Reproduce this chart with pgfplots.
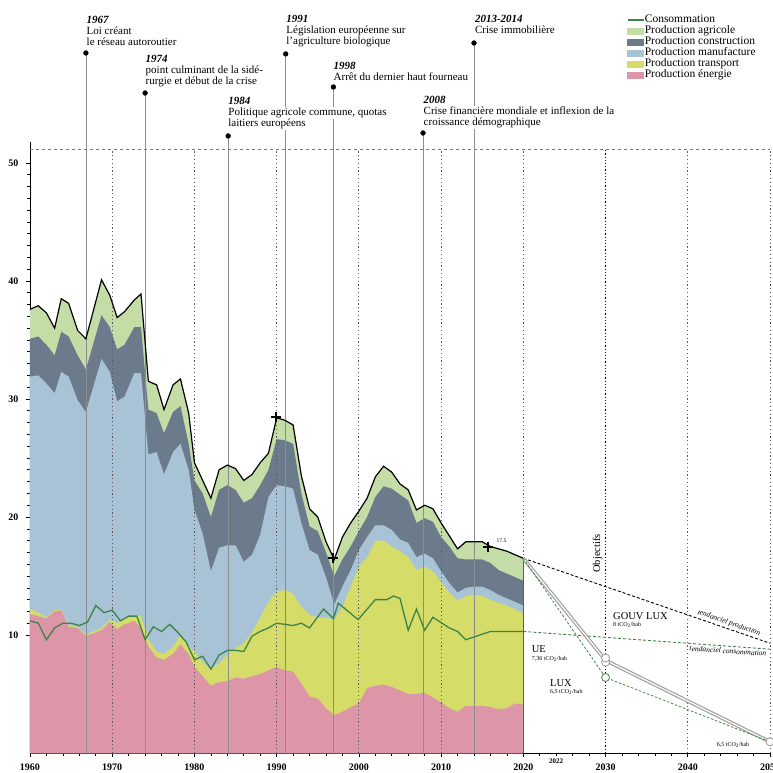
\documentclass[border=0pt]{standalone}
\usepackage{fontspec}
\setmainfont{Liberation Serif}
\usepackage{pgfplots}
\pgfplotsset{compat=1.18}
\usepackage{pgfplotstable}

\definecolor{cEn}{RGB}{221,150,168}
\definecolor{cTr}{RGB}{213,220,104}
\definecolor{cMa}{RGB}{168,194,214}
\definecolor{cCo}{RGB}{108,123,140}
\definecolor{cAg}{RGB}{196,221,167}
\definecolor{cCons}{RGB}{60,132,72}
\definecolor{cRed}{RGB}{210,40,70}
\definecolor{cEv}{RGB}{140,140,145}
\definecolor{cDec}{RGB}{95,85,95}

% cumulative boundaries: e = energie, t = +transport, m = +manufacture, c = +construction, a = total
\pgfplotstableread{
x e t m c a
1960 11.8 12.2 31.9 35.1 37.6
1961 11.6 11.9 32.0 35.3 37.9
1962 11.4 11.5 31.3 34.6 37.3
1963 12.0 12.1 30.5 33.7 36.0
1963.8 12.1 12.2 32.3 35.7 38.5
1964.7 10.7 10.8 31.9 35.3 38.1
1965.8 10.6 10.7 29.9 33.7 35.8
1966.8 9.9 10.0 28.9 32.5 35.1
1968.7 10.4 10.6 33.4 37.1 40.1
1969.7 11.1 11.3 32.3 36.1 38.8
1970.6 10.5 11.0 29.8 34.2 36.9
1971.5 10.9 11.4 30.2 34.6 37.4
1972.7 11.2 11.7 32.2 36.1 38.4
1973.5 10.6 11.6 32.2 36.1 38.9
1974.4 9.0 9.6 25.3 29.1 31.5
1975.4 8.1 8.6 25.5 28.8 31.2
1976.3 7.9 8.4 23.6 27.1 29.1
1977.4 8.4 9.0 25.5 28.9 31.2
1978.3 9.2 10.0 26.2 29.4 31.7
1979.3 8.4 9.1 24.0 26.2 28.8
1980 7.3 8.6 20.6 23.1 24.6
1981 6.5 7.7 18.6 22.0 23.1
1982 5.7 7.1 15.4 20.0 21.6
1983 6.0 7.6 17.4 22.3 24.0
1984 6.1 8.3 17.6 22.7 24.4
1985 6.4 8.9 17.6 22.3 24.1
1986 6.3 9.3 16.2 21.2 23.1
1987 6.5 10.2 16.8 21.6 23.6
1988 6.7 11.5 18.5 22.7 24.6
1989 7.0 12.8 21.7 24.0 25.4
1990 7.3 13.7 22.7 26.6 28.4
1991 7.0 13.8 22.6 26.5 28.2
1992 6.9 13.5 22.4 26.2 27.8
1993 5.9 12.4 19.5 22.0 23.5
1994 4.8 11.7 17.2 19.2 20.7
1995 4.6 11.5 16.8 18.8 20.0
1996 3.8 11.5 14.9 17.0 17.9
1997 3.2 11.3 12.6 15.0 16.4
1998 3.5 12.4 14.1 16.4 18.3
1999 3.9 14.1 15.5 17.5 19.5
2000 4.2 15.8 17.2 18.8 20.5
2001 5.5 16.6 18.3 20.0 21.6
2002 5.7 18.0 19.3 21.7 23.4
2003 5.8 18.0 19.3 22.6 24.3
2004 5.6 17.5 18.9 22.4 23.8
2005 5.3 17.1 18.1 21.9 22.8
2006 5.0 16.6 17.8 21.4 22.3
2007 5.0 15.5 16.6 19.5 20.6
2008 5.1 15.8 16.9 19.9 21.0
2009 4.7 15.4 16.5 19.6 20.7
2010 4.3 14.5 15.4 18.3 19.5
2011 3.8 13.6 14.4 17.5 18.4
2012 3.5 12.9 13.6 16.5 17.3
2013 4.0 13.3 14.0 16.4 17.9
2014 4.0 13.4 14.1 16.4 17.9
2015 4.0 13.3 14.1 16.4 17.9
2016 3.9 13.0 13.8 16.1 17.5
2017 3.7 12.7 13.4 15.5 17.3
2018 3.8 12.5 13.1 15.2 17.1
2019 4.2 12.2 12.8 14.9 16.8
2020 4.1 11.8 12.5 14.6 16.5
}\stack

\pgfplotstableread{
x y
1960 11.2
1961 11.0
1962 9.6
1963 10.6
1964 11.0
1965 11.0
1966 10.8
1967 11.1
1968 12.5
1969 11.9
1970 12.1
1971 11.2
1972 11.6
1973 11.6
1974 9.6
1975 10.7
1976 10.3
1977 10.9
1978 10.2
1979 9.4
1980 7.9
1981 8.2
1982 7.1
1983 8.3
1984 8.7
1985 8.7
1986 8.6
1987 9.9
1988 10.3
1989 10.6
1990 11.0
1992 10.8
1993 11.0
1994 10.6
1995.7 12.2
1996.9 11.4
1997.5 12.7
1999.9 11.3
2002 13.0
2003.4 13.0
2004.2 13.3
2005 13.1
2006 10.4
2007 12.2
2008 10.4
2009 11.5
2011 10.6
2012 10.3
2013 9.6
2016 10.3
2020 10.3
}\cons

\begin{document}
\begin{tikzpicture}[font=\fontsize{11}{11}\selectfont]
\begin{axis}[
  at={(0pt,0pt)}, anchor=south west,
  scale only axis, width=740pt, height=611.24pt,
  xmin=1960, xmax=2050, ymin=0, ymax=51.8,
  axis x line=bottom, axis y line=left,
  axis line style={-, line width=0.8pt},
  xtick={1960,1970,...,2050},
  xticklabels={1960,1970,1980,1990,2000,2010,2020,2030,2040,2050},
  minor x tick num=4,
  ytick={10,20,30,40,50}, yticklabels={10,20,30,40,50},
  minor y tick num=9,
  tick align=outside, major tick length=4pt, minor tick length=2.5pt,
  tick style={line width=0.6pt, black},
  ticklabel style={font=\fontsize{10}{11}\selectfont\bfseries},
  yticklabel style={xshift=-4pt},
  xticklabel style={yshift=-3pt},
  extra x ticks={2024}, extra x tick labels={2022},
  extra x tick style={major tick length=2.5pt, xticklabel style={font=\fontsize{7}{8}\selectfont\bfseries, yshift=3pt}},
  /pgf/number format/assume math mode=true,
  clip=false,
  legend cell align=left,
  legend style={at={(axis cs:2032.6,62.6)}, anchor=north west, draw=none, fill=none,
    inner sep=0pt, outer sep=0pt, row sep=0pt,
    font=\fontsize{11.5}{11}\selectfont,
    nodes={inner sep=0.5pt, text height=7.5pt, text depth=2.5pt}},
]
% legend entries
\addlegendimage{legend image code/.code={\draw[cCons, line width=1.4pt] (0pt,0pt) -- (16pt,0pt);}}
\addlegendentry{Consommation}
\addlegendimage{legend image code/.code={\fill[cAg] (0pt,-3pt) rectangle (16pt,3pt);}}
\addlegendentry{Production agricole}
\addlegendimage{legend image code/.code={\fill[cCo] (0pt,-3pt) rectangle (16pt,3pt);}}
\addlegendentry{Production construction}
\addlegendimage{legend image code/.code={\fill[cMa] (0pt,-3pt) rectangle (16pt,3pt);}}
\addlegendentry{Production manufacture}
\addlegendimage{legend image code/.code={\fill[cTr] (0pt,-3pt) rectangle (16pt,3pt);}}
\addlegendentry{Production transport}
\addlegendimage{legend image code/.code={\fill[cEn] (0pt,-3pt) rectangle (16pt,3pt);}}
\addlegendentry{Production énergie}

% stacked areas (painted from the top layer down)
\addplot[fill=cAg, draw=none, forget plot] table[x=x, y=a] {\stack} \closedcycle;
\addplot[fill=cCo, draw=none, forget plot] table[x=x, y=c] {\stack} \closedcycle;
\addplot[fill=cMa, draw=none, forget plot] table[x=x, y=m] {\stack} \closedcycle;
\addplot[fill=cTr, draw=none, forget plot] table[x=x, y=t] {\stack} \closedcycle;
\addplot[fill=cEn, draw=none, forget plot] table[x=x, y=e] {\stack} \closedcycle;

% top dashed line and decade dotted lines
\draw[cDec!80, line width=0.6pt, dash pattern=on 3pt off 3pt] (axis cs:1960,51.2) -- (axis cs:2050,51.2);
\foreach \d in {1970,1980,1990,2000,2010,2020,2040,2050} {
  \edef\tmp{\noexpand\draw[cDec, line width=0.9pt, dash pattern=on 1.2pt off 2.6pt] (axis cs:\d,0) -- (axis cs:\d,51.2);}\tmp
}
\draw[black, line width=1.3pt, dash pattern=on 1.2pt off 2pt] (axis cs:2030,0) -- (axis cs:2030,51.2);

% event lines
\draw[cEv, line width=0.7pt] (axis cs:1966.8,0) -- (axis cs:1966.8,59.32);
\draw[cEv, line width=0.7pt] (axis cs:1974,0) -- (axis cs:1974,55.93);
\draw[cEv, line width=0.7pt] (axis cs:1984.1,0) -- (axis cs:1984.1,52.29);
\draw[cEv, line width=0.7pt] (axis cs:1991.1,0) -- (axis cs:1991.1,59.24);
\draw[cEv, line width=0.7pt] (axis cs:1996.9,0) -- (axis cs:1996.9,56.44);
\draw[cEv, line width=0.7pt] (axis cs:2007.8,0) -- (axis cs:2007.8,52.54);
\draw[cEv, line width=0.7pt] (axis cs:2014,0) -- (axis cs:2014,60.17);
\addplot[only marks, mark=*, mark size=2.4pt, black, forget plot] coordinates {
 (1966.8,59.32) (1974,55.93) (1984.1,52.29) (1991.1,59.24) (1996.9,56.44) (2007.8,52.54) (2014,60.17)};

% red end line at 2020
\addplot[cRed, line width=1pt, forget plot] coordinates {(2020,0) (2020,16.5)};

% consumption line
\addplot[cCons, line width=1.3pt, forget plot] table[x=x, y=y] {\cons};

% total line
\addplot[black, line width=1.2pt, forget plot] table[x=x, y=a] {\stack};

% trend projections
\addplot[black, line width=0.9pt, dash pattern=on 3pt off 2pt, forget plot] coordinates {(2020,16.5) (2050,9.3)};
\addplot[cCons, line width=0.9pt, dash pattern=on 3pt off 2pt, forget plot] coordinates {(2020,10.3) (2050,8.8)};
\addplot[gray!75, line width=1.2pt, double=white, double distance=1.2pt, forget plot] coordinates {(2020,16.5) (2030,7.85) (2050,0.95)};
\addplot[cCons, line width=0.8pt, dash pattern=on 2.5pt off 1.8pt, forget plot] coordinates {(2020,16.5) (2030,6.4) (2050,0.95)};
\addplot[only marks, mark=*, mark size=4pt, mark options={fill=white, draw=gray!80, line width=0.8pt}, forget plot] coordinates {(2030,7.7) (2030,8.05) (2050,0.95)};
\addplot[only marks, mark=*, mark size=4pt, mark options={fill=white, draw=cCons, line width=0.8pt}, forget plot] coordinates {(2030,6.4)};

% crosses
\addplot[only marks, mark=+, mark size=5pt, mark options={line width=2pt, black}, forget plot] coordinates {(1989.9,28.5) (1996.8,16.5) (2015.7,17.5)};
\end{axis}

% ---- annotations (1pt = 1px of the reference; axis origin at 1960/0) ----
\tikzset{ev/.style={anchor=base west, inner xsep=0.5pt, inner ysep=1.2pt, fill=white}}
\node[ev] at (56pt,729pt) {\bfseries\itshape 1967};
\node[ev] at (56pt,718pt) {Loi créant};
\node[ev] at (56pt,707pt) {le réseau autoroutier};

\node[ev] at (115pt,690.5pt) {\bfseries\itshape 1974};
\node[ev] at (115pt,679.5pt) {point culminant de la sidé-};
\node[ev] at (115pt,668.5pt) {rurgie et début de la crise};

\node[ev] at (197.7pt,648.5pt) {\bfseries\itshape 1984};
\node[ev] at (197.7pt,637.5pt) {Politique agricole commune, quotas};
\node[ev] at (197.7pt,626.5pt) {laitiers européens};

\node[ev] at (255.7pt,730pt) {\bfseries\itshape 1991};
\node[ev] at (255.7pt,719pt) {Législation européenne sur};
\node[ev] at (255.7pt,708pt) {l'agriculture biologique};

\node[ev] at (303pt,683pt) {\bfseries\itshape 1998};
\node[ev] at (303pt,672pt) {Arrêt du dernier haut fourneau};

\node[ev] at (393pt,649.5pt) {\bfseries\itshape 2008};
\node[ev] at (393pt,638.5pt) {Crise financière mondiale et inflexion de la};
\node[ev] at (393pt,627.5pt) {croissance démographique};

\node[ev] at (444.3pt,730pt) {\bfseries\itshape 2013-2014};
\node[ev] at (444.3pt,719pt) {Crise immobilière};

% objectives labels
\node[anchor=base west, inner sep=0pt, font=\fontsize{10.5}{11}\selectfont] at (583pt,134pt) {GOUV LUX};
\node[anchor=base west, inner sep=0pt, font=\fontsize{6}{7}\selectfont] at (583pt,127pt) {8 tCO\textsubscript{2}/hab};
\node[anchor=base west, inner sep=0pt, font=\fontsize{10.5}{11}\selectfont] at (501.7pt,101pt) {UE};
\node[anchor=base west, inner sep=0pt, font=\fontsize{6}{7}\selectfont] at (501.7pt,93pt) {7,36 tCO\textsubscript{2}/hab};
\node[anchor=base west, inner sep=0pt, font=\fontsize{10.5}{11}\selectfont] at (520pt,67pt) {LUX};
\node[anchor=base west, inner sep=0pt, font=\fontsize{6}{7}\selectfont] at (520pt,60pt) {6,5 tCO\textsubscript{2}/hab};
\node[anchor=base west, inner sep=0pt, font=\fontsize{6}{7}\selectfont] at (686.7pt,7pt) {6,5 tCO\textsubscript{2}/hab};
\node[rotate=-19, inner sep=0pt, font=\fontsize{7.5}{8}\selectfont\itshape] at (699pt,130pt) {tendanciel production};
\node[rotate=-4, inner sep=0pt, font=\fontsize{7.5}{8}\selectfont\itshape] at (698pt,102pt) {tendanciel consommation};
\node[rotate=90, inner sep=0pt, font=\fontsize{10.5}{11}\selectfont] at (567.5pt,199.5pt) {Objectifs};
\node[inner sep=0pt, font=\fontsize{5.5}{6}\selectfont] at (471.5pt,212pt) {17.5};

\pgfresetboundingbox
\path[use as bounding box] (-30pt,-19pt) rectangle (743pt,753pt);
\end{tikzpicture}
\end{document}
